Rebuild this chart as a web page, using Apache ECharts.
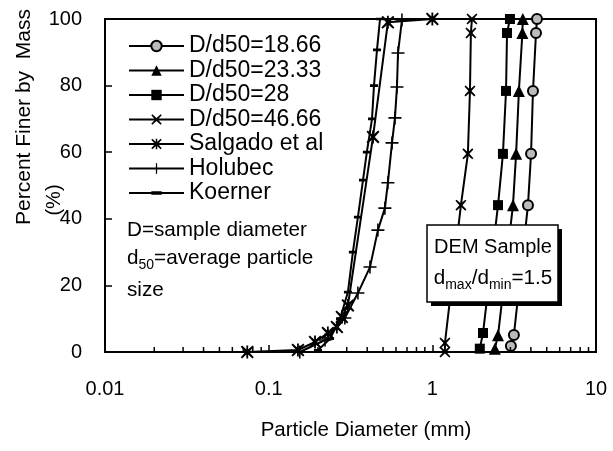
<!DOCTYPE html>
<html>
<head>
<meta charset="utf-8">
<script src="https://cdn.jsdelivr.net/npm/echarts@6/dist/echarts.min.js"></script>
<style>
html, body { margin: 0; padding: 0; background: #fff; }
#main { width: 613px; height: 451px; }
</style>
</head>
<body>
<div id="main"></div>
<script>
// 粒径 (mm) / 通过百分比 (%)
var d1866Size = [4.36, 4.30, 4.12, 4.01, 3.84, 3.15, 3.02];
var d1866Pct  = [100, 95.8, 78.4, 59.5, 44.1, 5.1, 1.8];

var d2333Size = [3.57, 3.55, 3.38, 3.25, 3.11, 2.52, 2.41];
var d2333Pct  = [100, 95.8, 78.4, 59.5, 44.1, 5, 1];

var d28Size = [2.98, 2.86, 2.82, 2.70, 2.52, 2.04, 1.95];
var d28Pct  = [100, 95.8, 78.4, 59.5, 44.1, 5.7, 1];

var d4666Size = [1.746, 1.72, 1.698, 1.649, 1.495, 1.194, 1.194];
var d4666Pct  = [100, 95.8, 78.4, 59.5, 44.1, 2.7, 0];

var salgadoSize = [0.074, 0.151, 0.192, 0.230, 0.261, 0.280, 0.305, 0.434, 0.535, 1.0];
var salgadoPct  = [0, 0.6, 3, 5.7, 7.5, 10.5, 14, 64.6, 99, 100];

var holubecSize = [0.155, 0.221, 0.292, 0.351, 0.416, 0.465, 0.513, 0.535, 0.567, 0.591, 0.608, 0.617, 0.652];
var holubecPct  = [0, 3.6, 10.2, 17.7, 25.5, 36.6, 43.2, 50.8, 62.8, 70.3, 79.6, 89.8, 99.7];

var koernerSize = [0.2, 0.237, 0.273, 0.305, 0.327, 0.351, 0.377, 0.398, 0.428, 0.44, 0.459, 0.479];
var koernerPct  = [0.5, 4, 10, 18, 30, 40.5, 51.6, 60, 70, 80, 90.7, 100];

var seriesNames = ['D/d50=18.66', 'D/d50=23.33', 'D/d50=28', 'D/d50=46.66', 'Salgado et al', 'Holubec', 'Koerner'];

// 对数轴次刻度
var xMinorTicks = [0.02, 0.03, 0.04, 0.05, 0.06, 0.07, 0.08, 0.09,
                   0.2, 0.3, 0.4, 0.5, 0.6, 0.7, 0.8, 0.9,
                   2, 3, 4, 5, 6, 7, 8, 9];

var FONT = 'Liberation Sans, Arial, sans-serif';

function zip(xs, ys) {
  return xs.map(function (x, i) { return [x, ys[i]]; });
}

// 自定义符号
var crossPath = 'path://M1,0L5,3.6L9,0L10,1L6.4,5L10,9L9,10L5,6.4L1,10L0,9L3.6,5L0,1Z';
var starPath = 'path://M1,0L5,3.6L9,0L10,1L6.4,5L10,9L9,10L5,6.4L1,10L0,9L3.6,5L0,1Z' +
               'M4.3,0L5.7,0L5.7,10L4.3,10Z';
var plusPath = 'path://M4.4,0L5.6,0L5.6,4.4L10,4.4L10,5.6L5.6,5.6L5.6,10L4.4,10L4.4,5.6L0,5.6L0,4.4L4.4,4.4Z';
// 短横线 (上下留空以保持方形包围盒)
var dashPath = 'path://M0,0L0.01,0L0.01,0.01Z M0,3.3L10,3.3L10,6.7L0,6.7Z M9.99,10L10,10L10,9.99Z';

function lineSeries(name, data, symbol, size, itemStyle) {
  return {
    name: name,
    type: 'line',
    data: data,
    symbol: symbol,
    symbolSize: size,
    showSymbol: true,
    lineStyle: { color: '#000', width: 2 },
    itemStyle: itemStyle || { color: '#000' },
    z: 3
  };
}

var myChart = echarts.init(document.getElementById('main'));

var subRich = {
  n: { fontSize: 20.7, fontFamily: FONT, fill: '#000', lineHeight: 24, verticalAlign: 'top' },
  s: { fontSize: 14, fontFamily: FONT, fill: '#000', lineHeight: 14, padding: [10, 0, 0, 0], verticalAlign: 'top' }
};

var option = {
  animation: false,
  backgroundColor: '#fff',
  textStyle: { fontFamily: FONT, color: '#000' },
  grid: {
    left: 105, right: 17, top: 19, bottom: 99,
    show: true, borderColor: '#000', borderWidth: 2, backgroundColor: 'transparent'
  },
  legend: {
    data: seriesNames,
    orient: 'vertical',
    left: 123,
    top: 29,
    itemWidth: 55,
    itemHeight: 13,
    itemGap: 0.5,
    textStyle: { fontFamily: FONT, fontSize: 23, color: '#000', lineHeight: 24 },
    selectedMode: false
  },
  xAxis: {
    type: 'log',
    logBase: 10,
    min: 0.01,
    max: 10,
    axisLine: { lineStyle: { color: '#000', width: 2 } },
    axisTick: { inside: true, length: 7, lineStyle: { color: '#000', width: 1.5 } },
    axisLabel: {
      color: '#000', fontSize: 20, fontFamily: FONT, margin: 27,
      formatter: function (v) { return String(v); }
    },
    splitLine: { show: false }
  },
  yAxis: {
    type: 'value',
    min: 0,
    max: 100,
    interval: 20,
    axisLine: { show: true, lineStyle: { color: '#000', width: 2 } },
    axisTick: { show: true, inside: true, length: 7, lineStyle: { color: '#000', width: 1.5 } },
    axisLabel: { color: '#000', fontSize: 20, fontFamily: FONT, margin: 23 },
    splitLine: { show: false }
  },
  graphic: [
    { type: 'text', x: 24, y: 117, rotation: Math.PI / 2, z: 100,
      style: { text: 'Percent Finer by  Mass', font: '21px ' + FONT, fill: '#000', align: 'center', verticalAlign: 'middle' } },
    { type: 'text', x: 54, y: 200, rotation: Math.PI / 2, z: 100,
      style: { text: '(%)', font: '20px ' + FONT, fill: '#000', align: 'center', verticalAlign: 'middle' } },
    { type: 'text', x: 366, y: 430, z: 100,
      style: { text: 'Particle Diameter (mm)', font: '20.5px ' + FONT, fill: '#000', align: 'center', verticalAlign: 'middle' } },
    { type: 'text', x: 127, y: 230, z: 100,
      style: { text: 'D=sample diameter', font: '20.7px ' + FONT, fill: '#000', verticalAlign: 'middle' } },
    { type: 'text', x: 127, y: 248, z: 100,
      style: { text: '{n|d}{s|50}{n|=average particle}', verticalAlign: 'top', rich: subRich } },
    { type: 'text', x: 127, y: 290, z: 100,
      style: { text: 'size', font: '20.7px ' + FONT, fill: '#000', verticalAlign: 'middle' } },
    // DEM 样本 文本框 (阴影 + 白底)
    { type: 'rect', shape: { x: 431, y: 229, width: 131, height: 77 }, z: 100,
      style: { fill: '#000' } },
    { type: 'rect', shape: { x: 427, y: 225, width: 131, height: 77 }, z: 101,
      style: { fill: '#fff', stroke: '#000', lineWidth: 1.5 } },
    { type: 'text', x: 493, y: 247, z: 102,
      style: { text: 'DEM Sample', font: '20px ' + FONT, fill: '#000', align: 'center', verticalAlign: 'middle' } },
    { type: 'text', x: 493, y: 268, z: 102,
      style: { text: '{n|d}{s|max}{n|/d}{s|min}{n|=1.5}', align: 'center', verticalAlign: 'top', rich: subRich } }
  ],
  series: [
    lineSeries(seriesNames[0], zip(d1866Size, d1866Pct), 'circle', 10,
      { color: '#bbb', borderColor: '#000', borderWidth: 2 }),
    lineSeries(seriesNames[1], zip(d2333Size, d2333Pct), 'triangle', 12),
    lineSeries(seriesNames[2], zip(d28Size, d28Pct), 'rect', 10),
    lineSeries(seriesNames[3], zip(d4666Size, d4666Pct), crossPath, 11),
    lineSeries(seriesNames[4], zip(salgadoSize, salgadoPct), starPath, 13),
    lineSeries(seriesNames[5], zip(holubecSize, holubecPct), plusPath, 13),
    lineSeries(seriesNames[6], zip(koernerSize, koernerPct), dashPath, 8),
    {
      name: 'minorTicks',
      type: 'custom',
      silent: true,
      data: xMinorTicks.map(function (v) { return [v, 0]; }),
      renderItem: function (params, api) {
        var p = api.coord([api.value(0), 0]);
        return {
          type: 'line',
          shape: { x1: p[0], y1: p[1], x2: p[0], y2: p[1] - 5 },
          style: { stroke: '#000', lineWidth: 1.5 }
        };
      },
      z: 4
    }
  ]
};

myChart.setOption(option);
</script>
</body>
</html>
